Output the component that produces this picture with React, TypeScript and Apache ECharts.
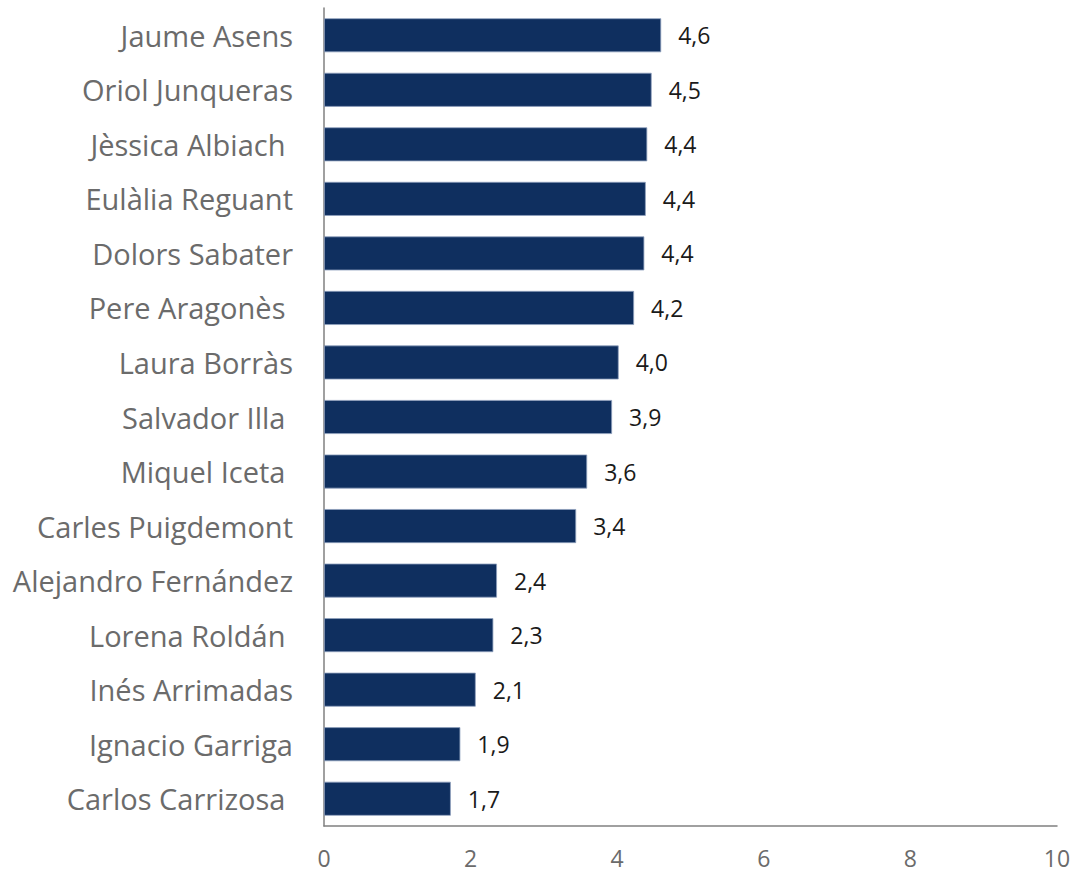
import React, { useEffect, useRef } from "react";
import * as echarts from "echarts";

const categories = [
  "Jaume Asens",
  "Oriol Junqueras",
  "Jèssica Albiach ",
  "Eulàlia Reguant",
  "Dolors Sabater",
  "Pere Aragonès ",
  "Laura Borràs",
  "Salvador Illa ",
  "Miquel Iceta ",
  "Carles Puigdemont",
  "Alejandro Fernández",
  "Lorena Roldán ",
  "Inés Arrimadas",
  "Ignacio Garriga",
  "Carlos Carrizosa ",
];
const values = [4.6, 4.47, 4.41, 4.39, 4.37, 4.23, 4.02, 3.93, 3.59, 3.44, 2.36, 2.31, 2.07, 1.86, 1.73];
const xTicks = [0, 2, 4, 6, 8, 10];

export default function App() {
  const ref = useRef<HTMLDivElement>(null);
  useEffect(() => {
    if (!ref.current) return;
    const chart = echarts.init(ref.current, undefined, { renderer: "svg" });
    chart.setOption({
      animation: false,
      grid: { left: 324, right: 17, top: 8, bottom: 47, containLabel: false },
      xAxis: {
        type: "value",
        min: xTicks[0],
        max: xTicks[xTicks.length - 1],
        interval: 2,
        axisLine: { show: true, lineStyle: { color: "#808080", width: 1.5 } },
        axisTick: { show: false },
        splitLine: { show: false },
        axisLabel: {
          color: "#6b6b6b",
          fontSize: 23,
          lineHeight: 24,
          fontFamily: "Open Sans",
          margin: 20,
        },
      },
      yAxis: {
        type: "category",
        data: categories.slice().reverse(),
        axisLine: { show: true, lineStyle: { color: "#808080", width: 1.5 } },
        axisTick: { show: false },
        axisLabel: {
          color: "#6b6b6b",
          fontSize: 29,
          fontFamily: "Open Sans",
          margin: 31,
        },
      },
      series: [
        {
          type: "bar",
          data: values.slice().reverse(),
          barWidth: 34,
          itemStyle: { color: "#0f2f5f", borderColor: "#8ea0bd", borderWidth: 0.8 },
          label: {
            show: true,
            position: "right",
            distance: 17,
            color: "#1a1a1a",
            fontSize: 23,
            fontFamily: "Open Sans",
            formatter: (p: any) => p.value.toFixed(1).replace(".", ","),
          },
        },
      ],
    });
    return () => chart.dispose();
  }, []);
  return <div ref={ref} style={{ width: 1074, height: 873, position: "absolute", left: 0, top: 0 }} />;
}
